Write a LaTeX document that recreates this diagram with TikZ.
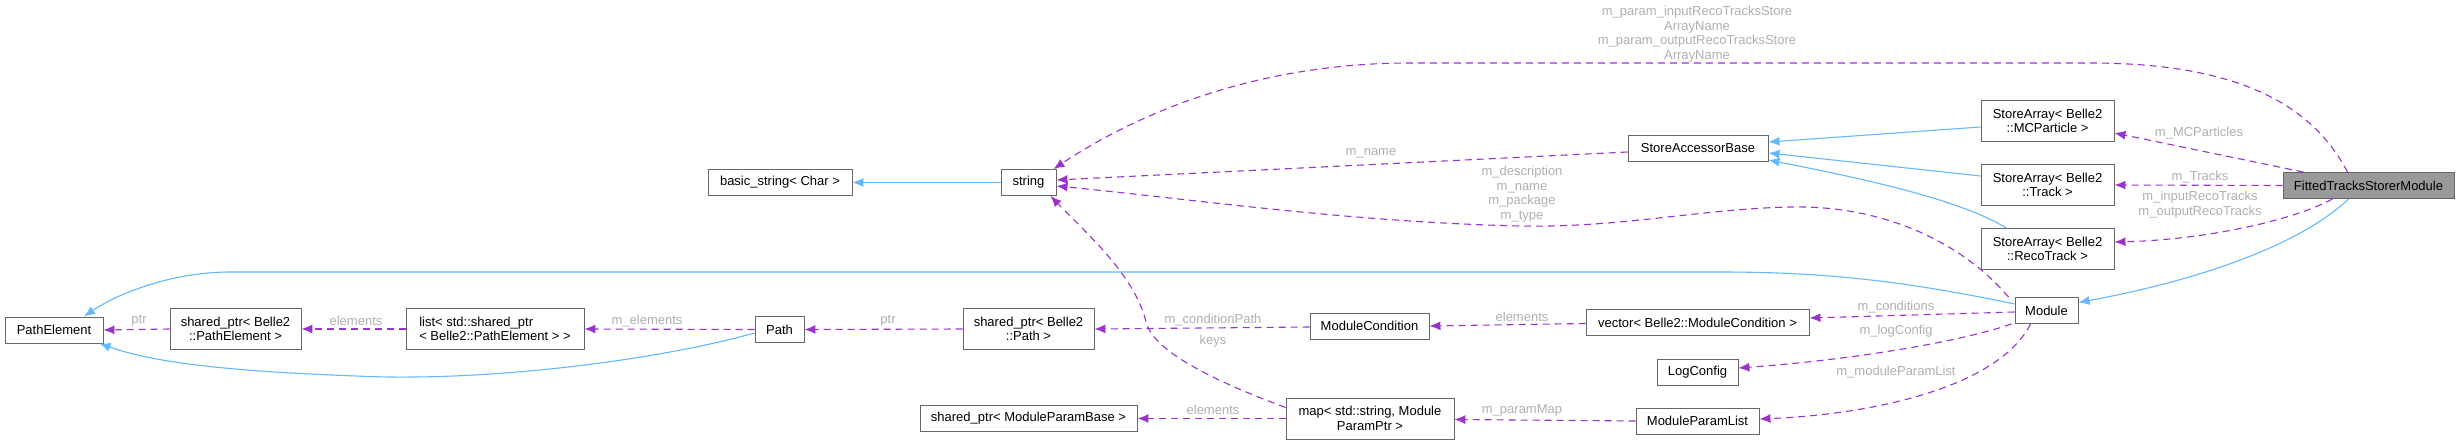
\documentclass[tikz,border=0pt]{standalone}
\usepackage{fontspec}
\setmainfont{Liberation Sans}
\usetikzlibrary{arrows.meta}
\definecolor{boxgray}{HTML}{666666}
\definecolor{ftgray}{HTML}{999999}
\definecolor{inhblue}{HTML}{63B8FF}
\definecolor{usepurple}{HTML}{9A32CD}
\definecolor{lblgray}{HTML}{B0B0B0}
\newcommand{\dgfont}{\fontsize{13pt}{14.7pt}\selectfont}
\tikzset{
  box/.style={draw=boxgray, line width=0.9pt, fill=white, inner sep=0pt, font=\dgfont, align=center},
  inh/.style={draw=inhblue, line width=1.1pt, -{Latex[length=11pt,width=9pt]}},
  use/.style={draw=usepurple, line width=1.1pt, dash pattern=on 7pt off 5pt, -{Latex[length=11pt,width=9pt]}},
  lbl/.style={text=lblgray, font=\dgfont, align=center, inner sep=0pt}
}
\begin{document}
\begin{tikzpicture}[x=1pt,y=-1pt]
\fill[white] (0,0) rectangle (2460,444);
\useasboundingbox (0,0) rectangle (2460,444);

% nodes
\node[box, minimum width=98pt, minimum height=26pt] (pe) at (54,330) {PathElement};
\node[box, minimum width=131pt, minimum height=41pt] (sppe) at (235.5,329) {shared\_ptr< Belle2\\::PathElement >};
\node[box, align=left, minimum width=178pt, minimum height=41pt] (lst) at (495,329) {list< std::shared\_ptr\\< Belle2::PathElement > >};
\node[box, minimum width=49pt, minimum height=26pt] (path) at (779.5,329.5) {Path};
\node[box, minimum width=131pt, minimum height=41pt] (spp) at (1028.5,329) {shared\_ptr< Belle2\\::Path >};
\node[box, minimum width=119pt, minimum height=26pt] (mcond) at (1369.5,326) {ModuleCondition};
\node[box, minimum width=223pt, minimum height=26pt] (vec) at (1697.5,322.5) {vector< Belle2::ModuleCondition >};
\node[box, minimum width=63pt, minimum height=26pt] (mod) at (2046.5,310.5) {Module};
\node[box, minimum width=81pt, minimum height=26pt] (lc) at (1697.5,372) {LogConfig};
\node[box, minimum width=123pt, minimum height=26pt] (mpl) at (1697.5,421) {ModuleParamList};
\node[box, minimum width=168pt, minimum height=41pt] (map) at (1370,418.5) {map< std::string, Module\\ParamPtr >};
\node[box, minimum width=217pt, minimum height=26pt] (spmpb) at (1028.5,418.5) {shared\_ptr< ModuleParamBase >};
\node[box, minimum width=144pt, minimum height=26pt] (bs) at (780,182.5) {basic\_string< Char >};
\node[box, minimum width=55pt, minimum height=26pt] (str) at (1028.5,182.5) {string};
\node[box, minimum width=140pt, minimum height=26pt] (sab) at (1698,148) {StoreAccessorBase};
\node[box, minimum width=133pt, minimum height=41pt] (mcpart) at (2047.5,121) {StoreArray< Belle2\\::MCParticle >};
\node[box, minimum width=133pt, minimum height=41pt] (trk) at (2047.5,185) {StoreArray< Belle2\\::Track >};
\node[box, minimum width=133pt, minimum height=41pt] (rtk) at (2047.5,249) {StoreArray< Belle2\\::RecoTrack >};
\node[box, fill=ftgray, minimum width=171pt, minimum height=26pt] (ft) at (2368.5,185.5) {FittedTracksStorerModule};

% inheritance edges
\draw[inh] (str.west) -- (bs.east);
\draw[inh] ([yshift=-6pt]mcpart.west) -- ([yshift=6pt]sab.east);
\draw[inh] ([yshift=9pt]trk.west) -- ([yshift=-5pt]sab.east);
\draw[inh] ([xshift=-41pt]rtk.north) .. controls (1960,200) and (1870,180) .. ([yshift=-12pt]sab.east);
\draw[inh] ([xshift=-20pt]ft.south) .. controls (2300,245) and (2200,280) .. ([yshift=8pt]mod.east);
\draw[inh] ([yshift=6.5pt]mod.west) .. controls (1900,280) and (1820,272) .. (1720,272) -- (230,272) .. controls (170,272) and (115,295) .. ([xshift=30pt]pe.north);
\draw[inh] ([yshift=-3.5pt]path.west) .. controls (650,362) and (480,382) .. (356,376) .. controls (250,372) and (160,365) .. ([xshift=-4pt]pe.south east);

% usage edges
\draw[use] ([xshift=-21pt]ft.north) .. controls (2310,100) and (2230,63) .. (2090,63) -- (1410,63) .. controls (1270,63) and (1150,105) .. ([xshift=-3pt]str.north east);
\node[lbl] (l1) at (1697,34) {m\_param\_inputRecoTracksStore\\ArrayName\\m\_param\_outputRecoTracksStore\\ArrayName};

\draw[use] ([xshift=-65pt]ft.north) -- ([yshift=-12pt]mcpart.east);
\node[lbl] (l2) at (2199,133) {m\_MCParticles};

\draw[use] (ft.west) -- (trk.east);
\node[lbl] (l3) at (2200,177) {m\_Tracks};

\draw[use] ([xshift=-36pt]ft.south) .. controls (2290,222) and (2200,240) .. ([yshift=7pt]rtk.east);
\node[lbl] (l4) at (2200,204.5) {m\_inputRecoTracks\\m\_outputRecoTracks};

\draw[use] ([yshift=-4pt]sab.west) -- ([yshift=2.5pt]str.east);
\node[lbl] (l5) at (1371,153) {m\_name};

\draw[use] ([xshift=-38pt]mod.north) .. controls (1960,240) and (1880,205) .. (1790,207) .. controls (1700,209) and (1620,228) .. (1520,226) .. controls (1350,222) and (1200,200) .. ([yshift=-3.5pt]str.east);
\node[lbl] (l6) at (1522,194) {m\_description\\m\_name\\m\_package\\m\_type};

\draw[use] ([yshift=-1.5pt]mod.west) -- ([yshift=4.5pt]vec.east);
\node[lbl] (l7) at (1896,307) {m\_conditions};

\draw[use] ([xshift=-35pt]mod.south) .. controls (1960,342) and (1850,360) .. ([yshift=4pt]lc.east);
\node[lbl] (l8) at (1896,331) {m\_logConfig};

\draw[use] ([xshift=-16pt]mod.south) .. controls (2000,385) and (1880,414) .. ([yshift=2pt]mpl.east);
\node[lbl] (l9) at (1896,372) {m\_moduleParamList};

\draw[use] ([yshift=-1pt]vec.west) -- (mcond.east);
\node[lbl] (l10) at (1522,317) {elements};

\draw[use] ([yshift=-1pt]mcond.west) -- (spp.east);
\node[lbl] (l11) at (1213,320) {m\_conditionPath};

\draw[use] (spp.west) -- (path.east);
\node[lbl] (l12) at (888,321) {ptr};

\draw[use] (path.west) -- (lst.east);
\node[lbl] (l13) at (647,321) {m\_elements};

\draw[use] (lst.west) -- (sppe.east);
\node[lbl] (l14) at (356,321) {elements};

\draw[use] (sppe.west) -- (pe.east);
\node[lbl] (l15) at (139,321) {ptr};

\draw[use] (mpl.west) -- ([yshift=-1pt]map.east);
\node[lbl] (l16) at (1522,410) {m\_paramMap};

\draw[use] (map.west) -- (spmpb.east);
\node[lbl] (l17) at (1213,410) {elements};

\draw[use] ([yshift=11pt]map.west) .. controls (1190,372) and (1152,345) .. (1146,322) .. controls (1135,275) and (1085,232) .. ([xshift=22pt]str.south);
\node[lbl] (l18) at (1213,341) {keys};
\end{tikzpicture}
\end{document}
